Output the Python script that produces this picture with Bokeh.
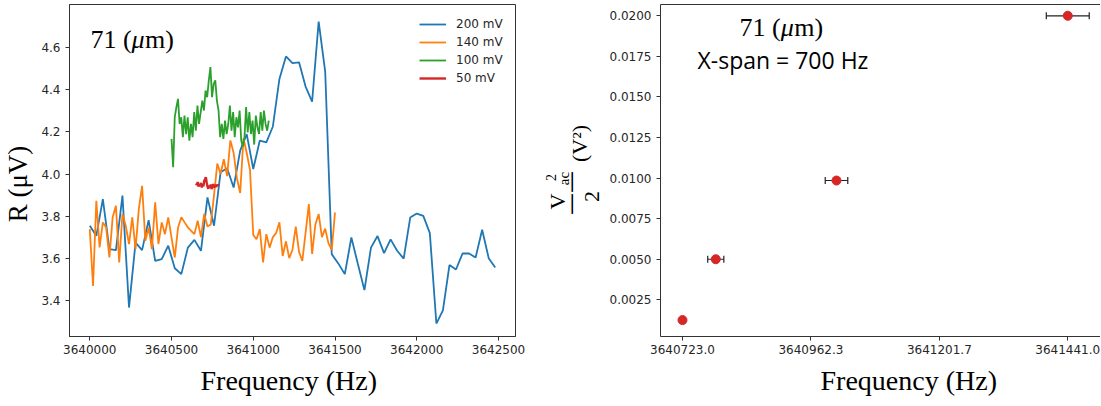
import numpy as np
from bokeh.plotting import figure
from bokeh.layouts import row
from bokeh.models import (Range1d, FixedTicker, Label, Legend, LegendItem, Whisker,
                          TeeHead, ColumnDataSource, LinearAxis, Title)
from bokeh.embed import file_html
from bokeh.resources import INLINE

# ---------------- left panel data: R (uV) vs frequency sweeps ----------------
blue_span = (3640000, 3642480)
blue_r = [3.754, 3.706, 3.881, 3.643, 3.638, 3.897, 3.365, 3.674, 3.638, 3.781,
          3.587, 3.595, 3.659, 3.552, 3.524, 3.650, 3.687, 3.635, 3.889, 3.754,
          4.008, 4.027, 3.936, 4.111, 4.190, 4.024, 4.159, 4.150, 4.226, 4.452,
          4.559, 4.527, 4.531, 4.416, 4.344, 4.725, 4.487, 3.619, 3.575, 3.524,
          3.698, 3.572, 3.448, 3.650, 3.705, 3.624, 3.689, 3.635, 3.598, 3.793,
          3.812, 3.801, 3.719, 3.289, 3.352, 3.567, 3.546, 3.622, 3.622, 3.603,
          3.735, 3.600, 3.555]

orange_span = (3640000, 3641500)
orange_r = [3.738, 3.468, 3.873, 3.651, 3.770, 3.746, 3.603, 3.794, 3.849, 3.579,
            3.810, 3.754, 3.667, 3.794, 3.643, 3.833, 3.944, 3.682, 3.746, 3.643,
            3.865, 3.667, 3.770, 3.714, 3.794, 3.698, 3.603, 3.746, 3.794, 3.770,
            3.746, 3.730, 3.714, 3.778, 3.700, 3.810, 3.750, 3.760, 3.900, 4.050,
            4.000, 4.070, 3.990, 4.160, 4.100, 3.980, 3.910, 4.170, 4.100, 4.020,
            3.710, 3.690, 3.738, 3.580, 3.714, 3.650, 3.700, 3.720, 3.770, 3.610,
            3.680, 3.600, 3.640, 3.750, 3.630, 3.587, 3.720, 3.857, 3.620, 3.760,
            3.810, 3.700, 3.740, 3.670, 3.640, 3.817]

green_span = (3640500, 3641095)
green_r = [4.167, 4.032, 4.270, 4.318, 4.357, 4.238, 4.270, 4.175, 4.278, 4.190,
           4.270, 4.159, 4.238, 4.175, 4.294, 4.206, 4.325, 4.238, 4.294, 4.349,
           4.302, 4.397, 4.365, 4.445, 4.508, 4.365, 4.429, 4.445, 4.349, 4.302,
           4.175, 4.238, 4.167, 4.254, 4.190, 4.238, 4.325, 4.206, 4.294, 4.175,
           4.270, 4.222, 4.302, 4.159, 4.130, 4.175, 4.318, 4.198, 4.294, 4.190,
           4.254, 4.140, 4.278, 4.222, 4.190, 4.294, 4.206, 4.302, 4.238, 4.206,
           4.254]

red_span = (3640650, 3640790)
red_r = [3.955, 3.948, 3.962, 3.940, 3.952, 3.945, 3.958, 3.936, 3.950, 3.942,
         3.968, 3.975, 3.985, 3.960, 3.940, 3.930, 3.945, 3.935, 3.950, 3.928,
         3.940, 3.952, 3.935, 3.948, 3.938, 3.950, 3.942, 3.948, 3.945]

series_labels = ["200 mV", "140 mV", "100 mV", "50 mV"]
series_colors = ["#1f77b4", "#ff7f0e", "#2ca02c", "#d62728"]

left_xticks = [3640000, 3640500, 3641000, 3641500, 3642000, 3642500]
left_xtick_labels = ["3640000", "3640500", "3641000", "3641500", "3642000", "3642500"]
left_yticks = [3.4, 3.6, 3.8, 4.0, 4.2, 4.4, 4.6]
left_ytick_labels = ["3.4", "3.6", "3.8", "4.0", "4.2", "4.4", "4.6"]

# ---------------- right panel data: Vac^2/2 vs peak frequency ----------------
peak_freq = [3640723.0, 3640785.0, 3641010.0, 3641441.0]
peak_freq_err = [2.0, 15.0, 21.0, 40.0]
vac2_half = [0.00125, 0.0050, 0.00985, 0.0200]

right_xticks = [3640723.0, 3640962.33, 3641201.67, 3641441.0]
right_xtick_labels = ["3640723.0", "3640962.3", "3641201.7", "3641441.0"]
right_yticks = [0.0025, 0.0050, 0.0075, 0.0100, 0.0125, 0.0150, 0.0175, 0.0200]
right_ytick_labels = ["0.0025", "0.0050", "0.0075", "0.0100", "0.0125", "0.0150",
                      "0.0175", "0.0200"]

SPINE = "#333333"
TICKTXT = "#262626"
SERIF = "Liberation Serif"
H = 406
BTOP = 4      # common top border (row aligns frames)
BBOT = 70     # common bottom border -> frame bottom at y = 336


def style_axis(ax, ticks, labels):
    ax.ticker = FixedTicker(ticks=ticks)
    ax.major_label_overrides = {t: l for t, l in zip(ticks, labels)}
    ax.axis_line_color = SPINE
    ax.axis_line_width = 1
    ax.major_tick_line_color = SPINE
    ax.major_tick_out = 4
    ax.major_tick_in = 0
    ax.minor_tick_line_color = None
    ax.major_label_text_font = "DejaVu Sans"
    ax.major_label_text_font_size = "12px"
    ax.major_label_text_color = TICKTXT
    ax.major_label_standoff = 4


def lab(p, text, sx, sy, size, font=SERIF, style="normal", angle=0.0,
        align="left", baseline="alphabetic"):
    p.add_layout(Label(x=sx, y=sy, x_units="screen", y_units="screen", text=text,
                       text_font=font, text_font_size=f"{size}px",
                       text_font_style=style, angle=angle, text_align=align,
                       text_baseline=baseline, text_color="#000000"))


def label_canvas(width):
    f = figure(width=width, height=H, x_range=Range1d(0, 1), y_range=Range1d(0, 1),
               output_backend="svg", toolbar_location=None,
               x_axis_location=None, y_axis_location=None,
               min_border_left=0, min_border_right=0,
               min_border_top=BTOP, min_border_bottom=BBOT)
    f.grid.visible = False
    f.outline_line_color = None
    return f


def x_title(p, offset):
    p.add_layout(Title(text="Frequency (Hz)", align="left", offset=offset,
                       text_font=SERIF, text_font_size="28px",
                       text_font_style="normal", text_color="#000000",
                       standoff=12), "below")


A = np.pi / 2

# ================= left figure =================
p1 = figure(width=530, height=H, x_range=Range1d(3639876, 3642604),
            y_range=Range1d(3.2274, 4.806), output_backend="svg",
            toolbar_location=None, min_border_left=69, min_border_right=15,
            min_border_top=BTOP, min_border_bottom=BBOT)
p1.grid.visible = False
p1.outline_line_color = SPINE
p1.outline_line_alpha = 1.0
p1.outline_line_width = 1
style_axis(p1.xaxis[0], left_xticks, left_xtick_labels)
style_axis(p1.yaxis[0], left_yticks, left_ytick_labels)
p1.yaxis[0].major_label_standoff = 5
# y label (trailing no-break spaces shift the centred text down like the reference)
p1.yaxis[0].axis_label = "R (μV)" + "\u00a0" * 4
p1.yaxis[0].axis_label_text_font = SERIF
p1.yaxis[0].axis_label_text_font_size = "27px"
p1.yaxis[0].axis_label_text_font_style = "normal"
p1.yaxis[0].axis_label_text_color = "#000000"
p1.yaxis[0].axis_label_standoff = 5
x_title(p1, 131)

items = []
for vals, span, color, lw, name in zip(
        [blue_r, orange_r, green_r, red_r],
        [blue_span, orange_span, green_span, red_span],
        series_colors, [1.8, 1.8, 1.8, 2.4], series_labels):
    xs = np.linspace(span[0], span[1], len(vals))
    r = p1.line(xs, vals, line_color=color, line_width=lw)
    items.append(LegendItem(label=name, renderers=[r]))

legend = Legend(items=items, location=(350, 249), orientation="vertical",
                glyph_width=27, glyph_height=18, label_height=18, spacing=0,
                padding=0, margin=0, label_standoff=10,
                label_text_font="DejaVu Sans", label_text_font_size="12px",
                label_text_color=TICKTXT, border_line_color=None,
                background_fill_alpha=0)
p1.add_layout(legend)

lab(p1, "71 (", 21, 297, 26)
lab(p1, "μ", 62, 297, 26, style="italic")
lab(p1, "m)", 75.5, 297, 26)

# ================= middle y-label canvas (Vac^2 / 2 (V^2)) =================
lab_mid = label_canvas(74)
lab(lab_mid, "V", 27, 135, 22, angle=A, align="center")
lab(lab_mid, "2", 20, 159, 14, angle=A, align="center")
lab(lab_mid, "ac", 33, 158, 15, angle=A, align="center")
lab(lab_mid, "\u2014\u2014", 40, 143.5, 22, font="DejaVu Sans", angle=A,
    align="center", baseline="middle")
lab(lab_mid, "2", 61, 140, 22, angle=A, align="center")
lab(lab_mid, "(V\u00b2)", 49, 193, 22, angle=A, align="center")

# ================= right figure =================
p2 = figure(width=496, height=H, x_range=Range1d(3640682, 3641502),
            y_range=Range1d(0.000239, 0.020696), output_backend="svg",
            toolbar_location=None, min_border_left=56, min_border_right=0,
            min_border_top=BTOP, min_border_bottom=BBOT)
p2.grid.visible = False
p2.outline_line_color = None
style_axis(p2.xaxis[0], right_xticks, right_xtick_labels)
style_axis(p2.yaxis[0], right_yticks, right_ytick_labels)
p2.yaxis[0].major_label_standoff = 5
x_title(p2, 160)

top_ax = LinearAxis(ticker=FixedTicker(ticks=[]), major_label_text_font_size="0px",
                    major_tick_out=0, major_tick_in=0, minor_tick_out=0,
                    minor_tick_in=0, major_label_standoff=0,
                    axis_line_color=SPINE, axis_line_width=1)
p2.add_layout(top_ax, "above")

src = ColumnDataSource(dict(
    x=peak_freq, y=vac2_half,
    lo=[f - e for f, e in zip(peak_freq, peak_freq_err)],
    hi=[f + e for f, e in zip(peak_freq, peak_freq_err)]))
whisk = Whisker(source=src, base="y", lower="lo", upper="hi", dimension="width",
                line_color="#222222", line_width=1.2, level="underlay",
                lower_head=TeeHead(size=7, line_color="#222222", line_width=1.2),
                upper_head=TeeHead(size=7, line_color="#222222", line_width=1.2))
p2.add_layout(whisk)
p2.scatter("x", "y", source=src, size=9, fill_color="#d62728", line_color="#d62728")

lab(p2, "71 (", 79, 309, 26)
lab(p2, "μ", 120.2, 309, 26, style="italic")
lab(p2, "m)", 133.7, 309, 26)
lab(p2, "X-span = 700 Hz", 37, 276.5, 23, font="Open Sans")

layout = row(p1, lab_mid, p2)
open("out.html", "w").write(file_html(layout, INLINE))
